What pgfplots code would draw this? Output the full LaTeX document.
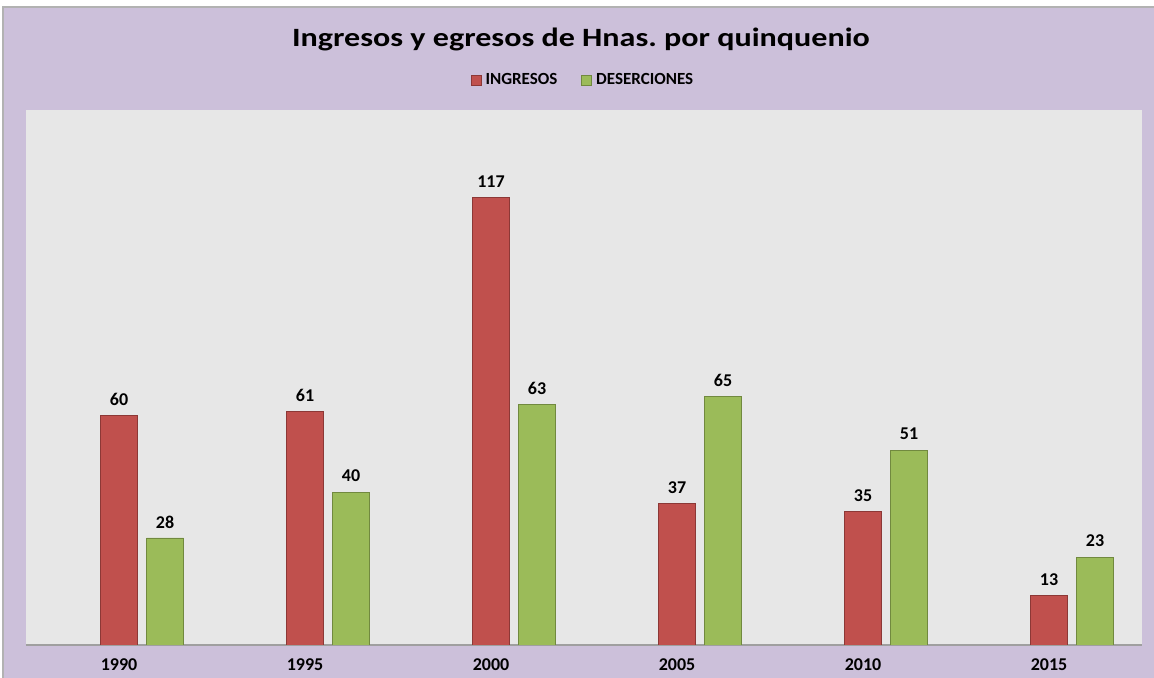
\documentclass[border=0pt]{standalone}
\usepackage{pgfplots}
\pgfplotsset{compat=1.18}
\usepackage{fontspec}
\setmainfont{Carlito}
\frenchspacing
\definecolor{lav}{HTML}{CCC0DA}
\definecolor{plotbg}{HTML}{E7E7E7}
\definecolor{redbar}{HTML}{C0504D}
\definecolor{redline}{HTML}{8C3836}
\definecolor{greenbar}{HTML}{9BBB59}
\definecolor{greenline}{HTML}{71893F}
\begin{document}
\begin{tikzpicture}
\useasboundingbox (0,0) rectangle (577pt,339pt);
\fill[white] (0,0) rectangle (577pt,339pt);
\draw[fill=lav, draw=gray!60, line width=0.8pt] (1.5pt,-3pt) rectangle (580pt,335.5pt);
\node[font=\fontsize{15}{17}\selectfont\bfseries] at (290.5pt,319.5pt) {\scalebox{1.07}[0.88]{Ingresos y egresos de Hnas. por quinquenio}};
\begin{axis}[
  at={(13pt,16.5pt)}, anchor=south west,
  scale only axis, width=558pt, height=267.5pt,
  xmin=-0.5, xmax=5.5, ymin=0, ymax=140,
  axis x line*=bottom, axis y line=none,
  x axis line style={draw=gray!75, line width=1pt},
  axis background/.style={fill=plotbg},
  xtick={0,...,5},
  xticklabels={1990,1995,2000,2005,2010,2015},
  major tick length=0pt,
  xticklabel style={font=\fontsize{9}{10}\selectfont\bfseries, anchor=center, yshift=-10pt},
  /pgf/number format/assume math mode=true,
  ybar, bar width=18.5pt,
  nodes near coords,
  every node near coord/.append style={font=\fontsize{9}{10}\selectfont\bfseries, anchor=center, yshift=8pt, black},
  legend style={at={(0.5,1.056)}, anchor=center, draw=none, fill=none,
    legend columns=2, font=\fontsize{8.5}{10}\selectfont\bfseries,
    /tikz/every even column/.append style={column sep=10pt}},
  legend image code/.code={\draw[#1, bar width=0pt, bar shift=0pt] (0pt,-2.5pt) rectangle (5pt,2.5pt);},
]
\addplot[fill=redbar, draw=redline, bar shift=0pt] coordinates {(0,60) (1,61) (2,117) (3,37) (4,35) (5,13)};
\addplot[fill=greenbar, draw=greenline, bar shift=23pt] coordinates {(0,28) (1,40) (2,63) (3,65) (4,51) (5,23)};
\legend{INGRESOS, DESERCIONES}
\end{axis}
\end{tikzpicture}
\end{document}
